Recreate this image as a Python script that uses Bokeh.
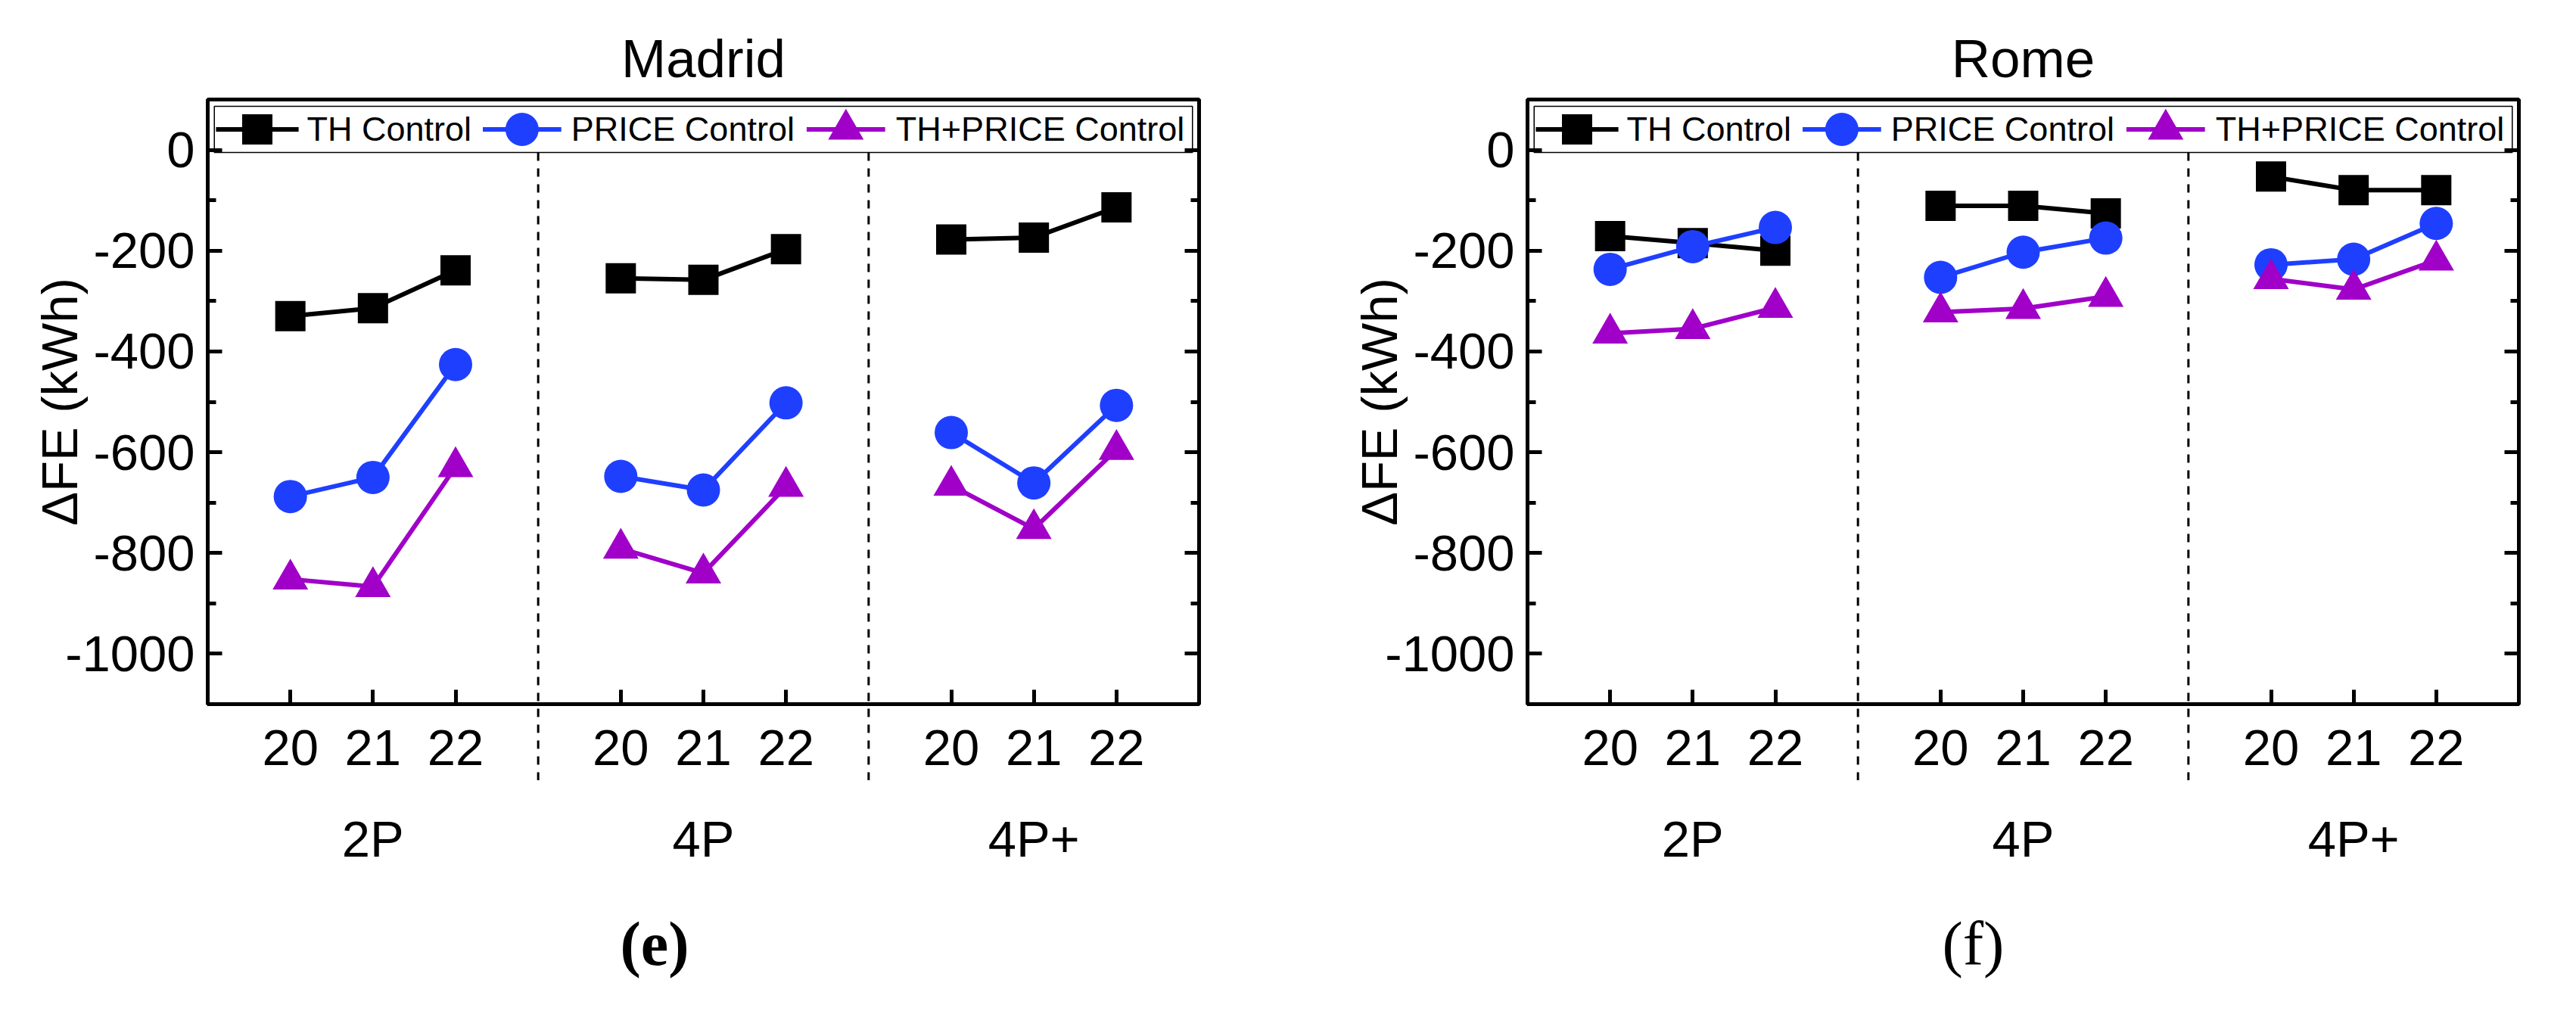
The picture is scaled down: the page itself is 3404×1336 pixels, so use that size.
from bokeh.plotting import figure
from bokeh.models import ColumnDataSource, FixedTicker, LinearAxis, Range1d, Title
from bokeh.layouts import row
from bokeh.embed import file_html
from bokeh.resources import INLINE
from bokeh.core.properties import value

# data (kWh)
setpoints = ["20", "21", "22"]
groups = ["2P", "4P", "4P+"]
series_names = ["TH Control", "PRICE Control", "TH+PRICE Control"]

madrid_th = [-330, -314, -239, -255, -258, -197, -178, -174, -114]
madrid_price = [-688, -650, -426, -648, -675, -502, -561, -661, -507]
madrid_thprice = [-852, -867, -629, -791, -840, -668, -666, -752, -595]

rome_th = [-171, -185, -200, -111, -111, -126, -53, -80, -80]
rome_price = [-237, -192, -154, -253, -203, -175, -228, -217, -146]
rome_thprice = [-364, -355, -313, -322, -315, -291, -256, -277, -219]

y_ticks = [0, -200, -400, -600, -800, -1000]
y_minor = [-100, -300, -500, -700, -900]

COLORS = ["#000000", "#1F3FFF", "#A000C8"]
MARKERS = ["square", "circle", "triangle"]
SIZES = [40, 44, 47]
FONT = "Liberation Sans"
SERIF = "Liberation Serif"

# x position of each (group, setpoint): one empty slot between groups
xpos = [g * 4 + i + 1 for g in range(len(groups)) for i in range(len(setpoints))]
seps = [g * 4 for g in range(1, len(groups))]
group_centers = [g * 4 + 2 for g in range(len(groups))]


def style_axis(ax, size="67px"):
    ax.axis_line_width = 5
    ax.axis_line_color = "black"
    ax.major_tick_in = 19
    ax.major_tick_out = 0
    ax.minor_tick_in = 11
    ax.minor_tick_out = 0
    ax.major_tick_line_width = 5
    ax.minor_tick_line_width = 5
    ax.major_label_text_font = FONT
    ax.major_label_text_font_size = size
    ax.major_label_text_color = "black"


def make_panel(title, series, border_left, border_right, tag, tag_style, tag_offset):
    p = figure(frame_width=1310, frame_height=799,
               x_range=Range1d(0, 12), y_range=Range1d(-1100, 100),
               min_border_left=border_left, min_border_right=border_right,
               min_border_top=131, min_border_bottom=390,
               toolbar_location=None, output_backend="svg",
               x_axis_location=None, y_axis_location=None)
    p.grid.visible = False
    p.outline_line_color = "black"
    p.outline_line_width = 5

    p.title.text = title
    p.title.align = "center"
    p.title.text_font = FONT
    p.title.text_font_size = "71px"
    p.title.text_font_style = "normal"
    p.title.text_color = "black"
    p.title.standoff = 29

    # left axis
    yl = LinearAxis(ticker=FixedTicker(ticks=y_ticks, minor_ticks=y_minor),
                    axis_label="ΔFE (kWh)")
    style_axis(yl)
    yl.major_label_overrides = {t: str(t) for t in y_ticks}
    yl.major_label_standoff = 17
    yl.axis_label_text_font = FONT
    yl.axis_label_text_font_size = "67px"
    yl.axis_label_text_font_style = "normal"
    yl.axis_label_text_color = "black"
    yl.axis_label_standoff = -33
    p.add_layout(yl, "left")

    # right mirror axis, ticks only
    yr = LinearAxis(ticker=FixedTicker(ticks=y_ticks, minor_ticks=y_minor))
    style_axis(yr)
    yr.major_label_overrides = {t: "" for t in y_ticks}
    yr.major_label_standoff = 0
    p.add_layout(yr, "right")

    # bottom axis: setpoints
    xb = LinearAxis(ticker=FixedTicker(ticks=xpos, minor_ticks=[]))
    style_axis(xb)
    xb.major_label_overrides = {x: setpoints[k % 3] for k, x in enumerate(xpos)}
    xb.major_label_standoff = 34
    p.add_layout(xb, "below")

    # second row: household groups
    xg = LinearAxis(ticker=FixedTicker(ticks=group_centers, minor_ticks=[]))
    style_axis(xg)
    xg.major_label_overrides = {x: g for x, g in zip(group_centers, groups)}
    xg.axis_line_color = None
    xg.major_tick_line_color = None
    xg.minor_tick_line_color = None
    xg.major_label_standoff = 57
    p.add_layout(xg, "below")

    # panel tag under the chart
    p.add_layout(Title(text="(" + tag + ")", align="left", offset=tag_offset,
                       text_font=SERIF, text_font_size="82px",
                       text_font_style=tag_style, text_color="black",
                       standoff=103), "below")

    # dashed group separators, running below the axis
    p.segment(x0=seps, y0=[-5] * len(seps), x1=seps, y1=[-1251] * len(seps),
              line_color="black", line_width=3, line_dash="11 10", level="overlay")

    # series
    for k, ys in enumerate(series):
        xs_groups = [xpos[g * 3:(g + 1) * 3] for g in range(len(groups))]
        ys_groups = [ys[g * 3:(g + 1) * 3] for g in range(len(groups))]
        p.multi_line(xs=xs_groups, ys=ys_groups, line_color=COLORS[k], line_width=6)
        src = ColumnDataSource(data=dict(x=xpos, y=ys))
        p.scatter("x", "y", source=src, marker=MARKERS[k], size=SIZES[k],
                  fill_color=COLORS[k], line_color=COLORS[k], line_width=0)

    # legend box across the top of the frame
    p.quad(left=[0.08], right=[11.92], top=[86.5], bottom=[-5],
           fill_color="white", line_color="black", line_width=1.5)
    leg_line = [(0.10, 1.10), (3.33, 4.28), (7.25, 8.20)]
    leg_text = [1.20, 4.40, 8.33]
    leg_y = 40.7
    for k in range(3):
        x0, x1 = leg_line[k]
        p.segment(x0=[x0], y0=[leg_y], x1=[x1], y1=[leg_y],
                  line_color=COLORS[k], line_width=6)
        p.scatter(x=[(x0 + x1) / 2], y=[leg_y], marker=MARKERS[k], size=SIZES[k],
                  fill_color=COLORS[k], line_color=COLORS[k], line_width=0)
        p.text(x=[leg_text[k]], y=[leg_y], text=[series_names[k]],
               text_font=value(FONT), text_font_size="45px",
               text_baseline="middle", text_align="left", text_color="black")
    return p


p1 = make_panel("Madrid", [madrid_th, madrid_price, madrid_thprice], 274, 100, "e", "bold", 545)
p2 = make_panel("Rome", [rome_th, rome_price, rome_thprice], 334, 60, "f", "normal", 548)

layout = row(p1, p2)
open("out.html", "w").write(file_html(layout, INLINE))
